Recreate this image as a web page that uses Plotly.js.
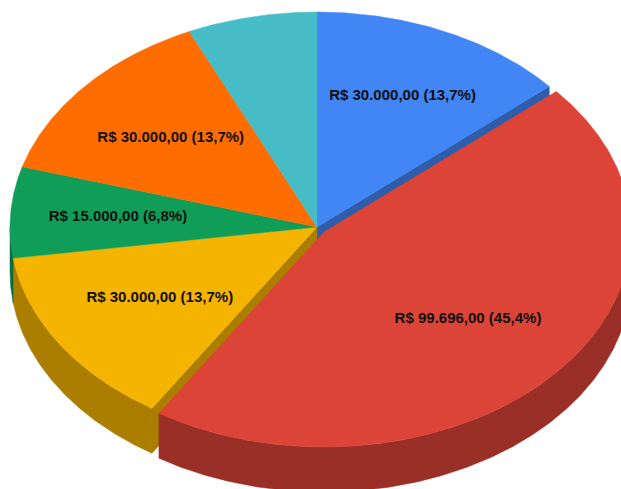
<!DOCTYPE html>
<html>
<head>
<meta charset="utf-8">
<script src="https://cdn.plot.ly/plotly-3.0.1.min.js"></script>
<style>html,body{margin:0;padding:0;background:#fff;overflow:hidden}</style>
</head>
<body>
<div id="chart" style="width:621px;height:489px"></div>
<script>
// Data, clockwise from 12 o'clock
const categories = ['Azul', 'Vermelho', 'Amarelo', 'Verde', 'Laranja', 'Turquesa'];
const values = [30000, 99696, 30000, 15000, 30000, 15000];
const sliceLabels = ['R$ 30.000,00 (13,7%)', 'R$ 99.696,00 (45,4%)', 'R$ 30.000,00 (13,7%)', 'R$ 15.000,00 (6,8%)', 'R$ 30.000,00 (13,7%)', ''];
const topColors = ['#4285F4', '#DB4437', '#F4B400', '#0F9D58', '#FF6D00', '#46BDC6'];
const sideColors = ['#2E5DAB', '#992F26', '#AB7E00', '#0A6E3E', '#B34C00', '#31848B'];
const labelRadii = [0.67, 0.62, 0.61, 0.65, 0.63, 0.6];

// Pie geometry, in pixels of the axes below
const W = 621, H = 489;
const cx = 317, cy = 227, rx = 307, ry = 215, depth = 45;
const explodedIndex = 1, explodeDx = 7, explodeDy = 5;

const total = values.reduce((a, b) => a + b, 0);
let cum = 0;
const slices = values.map((v, i) => {
  const a0 = cum / total * 2 * Math.PI;
  cum += v;
  const a1 = cum / total * 2 * Math.PI;
  const ex = i === explodedIndex;
  return {a0, a1, ox: cx + (ex ? explodeDx : 0), oy: cy + (ex ? explodeDy : 0), i};
});
const px = (s, a, k = 1) => s.ox + rx * k * Math.sin(a);
const py = (s, a, k = 1) => s.oy - ry * k * Math.cos(a);

function arc(s, a0, a1, dy) {
  const n = Math.max(2, Math.ceil((a1 - a0) / 0.005));
  const xs = [], ys = [];
  for (let j = 0; j <= n; j++) {
    const a = a0 + (a1 - a0) * j / n;
    xs.push(px(s, a));
    ys.push(py(s, a) + dy);
  }
  return [xs, ys];
}
function poly(xs, ys, color) {
  return {type: 'scatter', mode: 'lines', x: xs, y: ys, fill: 'toself', fillcolor: color,
    line: {width: 0.5, color: color}, hoverinfo: 'skip', showlegend: false};
}
function topFace(s) {
  const [xs, ys] = arc(s, s.a0, s.a1, 0);
  return poly([s.ox, ...xs, s.ox], [s.oy, ...ys, s.oy], topColors[s.i]);
}
function rimFace(s) {
  const lo = Math.max(s.a0, Math.PI / 2), hi = Math.min(s.a1, 3 * Math.PI / 2);
  if (hi <= lo) return null;
  const [xa, ya] = arc(s, lo, hi, 0);
  const [xb, yb] = arc(s, lo, hi, depth);
  return poly([...xa, ...xb.reverse(), xa[0]], [...ya, ...yb.reverse(), ya[0]], sideColors[s.i]);
}
function cutFace(s, a) {
  const ex = px(s, a), ey = py(s, a);
  return poly([s.ox, ex, ex, s.ox, s.ox], [s.oy, ey, ey + depth, s.oy + depth, s.oy], sideColors[s.i]);
}

const traces = [];
// sides, back to front; the exploded slice covers the neighbouring cut faces
slices.forEach(s => { if (s.i !== explodedIndex) { const r = rimFace(s); if (r) traces.push(r); } });
traces.push(cutFace(slices[explodedIndex - 1], slices[explodedIndex - 1].a1));
traces.push(cutFace(slices[explodedIndex + 1], slices[explodedIndex + 1].a0));
traces.push(rimFace(slices[explodedIndex]));
// top faces, exploded one last
slices.forEach(s => { if (s.i !== explodedIndex) traces.push(topFace(s)); });
traces.push(topFace(slices[explodedIndex]));
// labels
const shown = slices.filter(s => sliceLabels[s.i]);
traces.push({
  type: 'scatter', mode: 'text',
  x: shown.map(s => px(s, (s.a0 + s.a1) / 2, labelRadii[s.i])),
  y: shown.map(s => py(s, (s.a0 + s.a1) / 2, labelRadii[s.i])),
  text: shown.map(s => sliceLabels[s.i]),
  textposition: 'middle center',
  textfont: {family: '"Liberation Sans", Arial, sans-serif', size: 15, color: '#111111', weight: 700},
  hoverinfo: 'skip', showlegend: false, cliponaxis: false
});

Plotly.newPlot('chart', traces, {
  width: W, height: H,
  margin: {l: 0, r: 0, t: 0, b: 0},
  paper_bgcolor: '#fff', plot_bgcolor: '#fff',
  showlegend: false,
  xaxis: {range: [0, W], visible: false, fixedrange: true},
  yaxis: {range: [H, 0], visible: false, fixedrange: true}
}, {displayModeBar: false, staticPlot: true});
</script>
</body>
</html>
